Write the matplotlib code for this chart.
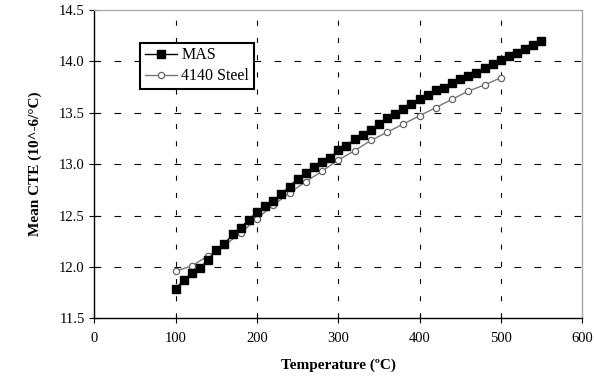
import matplotlib
matplotlib.use("Agg")
import matplotlib.pyplot as plt

plt.rcParams['font.family'] = ['Liberation Serif', 'DejaVu Serif']

# MAS readings, every 10 C
mas_temp = [100, 110, 120, 130, 140, 150, 160, 170, 180, 190,
            200, 210, 220, 230, 240, 250, 260, 270, 280, 290,
            300, 310, 320, 330, 340, 350, 360, 370, 380, 390,
            400, 410, 420, 430, 440, 450, 460, 470, 480, 490,
            500, 510, 520, 530, 540, 550]
mas_cte = [11.79, 11.87, 11.94, 11.99, 12.07, 12.16, 12.22, 12.32, 12.38, 12.46,
           12.53, 12.59, 12.64, 12.71, 12.78, 12.86, 12.91, 12.97, 13.02, 13.06,
           13.14, 13.18, 13.24, 13.28, 13.33, 13.39, 13.45, 13.49, 13.54, 13.58,
           13.63, 13.67, 13.72, 13.74, 13.79, 13.83, 13.86, 13.89, 13.93, 13.97,
           14.01, 14.05, 14.08, 14.12, 14.16, 14.20]

# 4140 steel, every 20 C
steel_temp = [100, 120, 140, 160, 180, 200, 220, 240, 260, 280,
              300, 320, 340, 360, 380, 400, 420, 440, 460, 480, 500]
steel_cte = [11.96, 12.01, 12.11, 12.21, 12.33, 12.47, 12.60, 12.72, 12.83, 12.93,
             13.04, 13.13, 13.23, 13.31, 13.39, 13.47, 13.55, 13.63, 13.71, 13.77, 13.84]

x_ticks = [0, 100, 200, 300, 400, 500, 600]
y_ticks = [11.5, 12.0, 12.5, 13.0, 13.5, 14.0, 14.5]

fig = plt.figure(figsize=(5.94, 3.79), dpi=100)
ax = fig.add_axes([0.159, 0.160, 0.821, 0.814])

# dashed grid
for xv in x_ticks[1:-1]:
    ax.axvline(xv, color='black', lw=0.8, dashes=(4.5, 11), zorder=0)
for yv in y_ticks[1:-1]:
    ax.axhline(yv, color='black', lw=0.8, dashes=(6, 12), zorder=0)

ax.plot(mas_temp, mas_cte, color='black', lw=1.0, marker='s', markersize=5.5,
        markerfacecolor='black', markeredgecolor='black', label='MAS', zorder=3)
ax.plot(steel_temp, steel_cte, color='#777777', lw=1.0, marker='o', markersize=4.5,
        markerfacecolor='white', markeredgecolor='#666666', markeredgewidth=0.9,
        label='4140 Steel', zorder=2)

ax.set_xlim(0, 600)
ax.set_ylim(11.5, 14.5)
ax.set_xticks(x_ticks)
ax.set_yticks(y_ticks)
ax.set_yticklabels([f"{v:.1f}" for v in y_ticks])
ax.tick_params(axis='both', direction='inout', length=7, width=0.8,
               labelsize=10.5, colors='black')
ax.tick_params(axis='x', pad=6)

for side in ['top', 'right']:
    ax.spines[side].set_color('#aaaaaa')
    ax.spines[side].set_linewidth(1.0)
for side in ['left', 'bottom']:
    ax.spines[side].set_color('black')
    ax.spines[side].set_linewidth(1.0)

ax.set_xlabel("Temperature (\u00baC)", fontsize=11, fontweight='bold', labelpad=10)
ax.set_ylabel("Mean CTE (10^-6/\u00b0C)", fontsize=11, fontweight='bold', labelpad=12)

leg = ax.legend(loc='upper left', bbox_to_anchor=(0.093, 0.894), fontsize=11.5,
                frameon=True, fancybox=False, edgecolor='black', framealpha=1,
                handlelength=2.0, handletextpad=0.3, borderpad=0.3,
                labelspacing=0.3, borderaxespad=0)
leg.get_frame().set_linewidth(1.5)

fig.savefig("out.png", dpi=100)
